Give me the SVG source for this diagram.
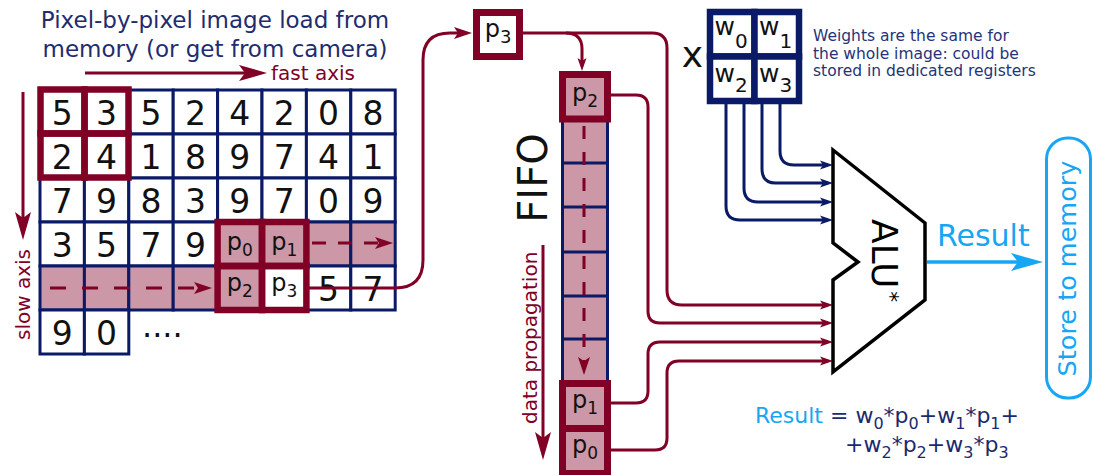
<svg xmlns="http://www.w3.org/2000/svg" width="1093" height="475" viewBox="0 0 1093 475">
<style>
text{font-family:"DejaVu Sans","Liberation Sans",sans-serif}
.c{fill:#fff;stroke:#0b1a66;stroke-width:3}
.pk{fill:#cc97a6;stroke:#0b1a66;stroke-width:3}
.win{fill:none;stroke:#800026;stroke-width:6.5}
.d{font-size:33px;fill:#111;text-anchor:middle}
.p{font-size:24px;fill:#111;text-anchor:middle}
.ps{font-size:17px}
.ttl{font-size:23px;fill:#1f2c6e;text-anchor:middle}
.lm{fill:none;stroke:#800026;stroke-width:3}
.ln{fill:none;stroke:#0b1a66;stroke-width:3}
.wt{font-size:15.5px;fill:#26337a}
.w{font-size:25px;fill:#111}
.ws{font-size:20px}
.f{font-size:22px;fill:#1b2a6e}
.fs{font-size:16px}
.blue{fill:#17a6f4}
</style>
<defs>
<marker id="mBig" markerUnits="userSpaceOnUse" viewBox="-22 -10 32 20" refX="0" refY="0" markerWidth="32" markerHeight="20" orient="auto"><path d="M8,0 L-20,-8 L-14,0 L-20,8 Z" fill="#800026"/></marker>
<marker id="mMed" markerUnits="userSpaceOnUse" viewBox="-14 -8 22 16" refX="0" refY="0" markerWidth="22" markerHeight="16" orient="auto"><path d="M6,0 L-12,-6 L-8,0 L-12,6 Z" fill="#800026"/></marker>
<marker id="mSm" markerUnits="userSpaceOnUse" viewBox="-10 -6 16 12" refX="0" refY="0" markerWidth="16" markerHeight="12" orient="auto"><path d="M5,0 L-8,-4.5 L-5,0 L-8,4.5 Z" fill="#800026"/></marker>
<marker id="nSm" markerUnits="userSpaceOnUse" viewBox="-10 -6 16 12" refX="0" refY="0" markerWidth="16" markerHeight="12" orient="auto"><path d="M5,0 L-8,-4.5 L-5,0 L-8,4.5 Z" fill="#0b1a66"/></marker>
<marker id="bBig" markerUnits="userSpaceOnUse" viewBox="-26 -11 36 22" refX="0" refY="0" markerWidth="36" markerHeight="22" orient="auto"><path d="M8,0 L-24,-9 L-17,0 L-24,9 Z" fill="#17a6f4"/></marker>
</defs>
<rect width="1093" height="475" fill="#fff"/>

<g id="title">
<text class="ttl" x="215" y="28">Pixel-by-pixel image load from</text>
<text class="ttl" x="215" y="57">memory (or get from camera)</text>
<text x="271" y="80" font-size="20" fill="#800026">fast axis</text>
<text transform="translate(29.5,340) rotate(-90)" font-size="20" fill="#800026">slow axis</text>
</g>

<g id="grid">
<rect class="c" x="40" y="90" width="44.4" height="44"/><rect class="c" x="84.4" y="90" width="44.4" height="44"/><rect class="c" x="128.8" y="90" width="44.4" height="44"/><rect class="c" x="173.2" y="90" width="44.4" height="44"/><rect class="c" x="217.6" y="90" width="44.4" height="44"/><rect class="c" x="262" y="90" width="44.4" height="44"/><rect class="c" x="306.4" y="90" width="44.4" height="44"/><rect class="c" x="350.8" y="90" width="44.4" height="44"/>
<rect class="c" x="40" y="134" width="44.4" height="44"/><rect class="c" x="84.4" y="134" width="44.4" height="44"/><rect class="c" x="128.8" y="134" width="44.4" height="44"/><rect class="c" x="173.2" y="134" width="44.4" height="44"/><rect class="c" x="217.6" y="134" width="44.4" height="44"/><rect class="c" x="262" y="134" width="44.4" height="44"/><rect class="c" x="306.4" y="134" width="44.4" height="44"/><rect class="c" x="350.8" y="134" width="44.4" height="44"/>
<rect class="c" x="40" y="178" width="44.4" height="44"/><rect class="c" x="84.4" y="178" width="44.4" height="44"/><rect class="c" x="128.8" y="178" width="44.4" height="44"/><rect class="c" x="173.2" y="178" width="44.4" height="44"/><rect class="c" x="217.6" y="178" width="44.4" height="44"/><rect class="c" x="262" y="178" width="44.4" height="44"/><rect class="c" x="306.4" y="178" width="44.4" height="44"/><rect class="c" x="350.8" y="178" width="44.4" height="44"/>
<rect class="c" x="40" y="222" width="44.4" height="44"/><rect class="c" x="84.4" y="222" width="44.4" height="44"/><rect class="c" x="128.8" y="222" width="44.4" height="44"/><rect class="c" x="173.2" y="222" width="44.4" height="44"/><rect class="pk" x="217.6" y="222" width="44.4" height="44"/><rect class="pk" x="262" y="222" width="44.4" height="44"/><rect class="pk" x="306.4" y="222" width="44.4" height="44"/><rect class="pk" x="350.8" y="222" width="44.4" height="44"/>
<rect class="pk" x="40" y="266" width="44.4" height="44"/><rect class="pk" x="84.4" y="266" width="44.4" height="44"/><rect class="pk" x="128.8" y="266" width="44.4" height="44"/><rect class="pk" x="173.2" y="266" width="44.4" height="44"/><rect class="pk" x="217.6" y="266" width="44.4" height="44"/><rect class="c" x="262" y="266" width="44.4" height="44"/><rect class="c" x="306.4" y="266" width="44.4" height="44"/><rect class="c" x="350.8" y="266" width="44.4" height="44"/>
<rect class="c" x="40" y="310" width="44.4" height="44"/><rect class="c" x="84.4" y="310" width="44.4" height="44"/>

<text class="d" y="125"><tspan x="62.2">5</tspan><tspan x="106.6">3</tspan><tspan x="151">5</tspan><tspan x="195.4">2</tspan><tspan x="239.8">4</tspan><tspan x="284.2">2</tspan><tspan x="328.6">0</tspan><tspan x="373">8</tspan></text>
<text class="d" y="169"><tspan x="62.2">2</tspan><tspan x="106.6">4</tspan><tspan x="151">1</tspan><tspan x="195.4">8</tspan><tspan x="239.8">9</tspan><tspan x="284.2">7</tspan><tspan x="328.6">4</tspan><tspan x="373">1</tspan></text>
<text class="d" y="213"><tspan x="62.2">7</tspan><tspan x="106.6">9</tspan><tspan x="151">8</tspan><tspan x="195.4">3</tspan><tspan x="239.8">9</tspan><tspan x="284.2">7</tspan><tspan x="328.6">0</tspan><tspan x="373">9</tspan></text>
<text class="d" y="257"><tspan x="62.2">3</tspan><tspan x="106.6">5</tspan><tspan x="151">7</tspan><tspan x="195.4">9</tspan></text>
<text class="d" y="301"><tspan x="328.6">5</tspan><tspan x="373">7</tspan></text>
<text class="d" y="345"><tspan x="62.2">9</tspan><tspan x="106.6">0</tspan></text>
<text x="142" y="346" font-size="32" fill="#111">····</text>
</g>

<g id="window-top">
<rect class="win" x="40.5" y="89.5" width="44" height="44"/><rect class="win" x="84.5" y="89.5" width="44" height="44"/>
<rect class="win" x="40.5" y="133.5" width="44" height="44"/><rect class="win" x="84.5" y="133.5" width="44" height="44"/>
</g>

<g id="window-p">
<rect class="win" x="217.6" y="222" width="44.4" height="44"/><rect class="win" x="262" y="222" width="44.4" height="44"/>
<rect class="win" x="217.6" y="266" width="44.4" height="44"/><rect class="win" x="262" y="266" width="44.4" height="44"/>
<text class="p" x="239.8" y="250">p<tspan class="ps" dy="6">0</tspan></text>
<text class="p" x="284.2" y="250">p<tspan class="ps" dy="6">1</tspan></text>
<text class="p" x="239.8" y="291">p<tspan class="ps" dy="6">2</tspan></text>
<text class="p" x="284.2" y="291">p<tspan class="ps" dy="6">3</tspan></text>
</g>

<g id="p3-register">
<rect x="476.5" y="12.5" width="43" height="44" fill="#fff" stroke="#800026" stroke-width="7"/>
<text class="p" x="498" y="37" font-size="26">p<tspan font-size="18" dy="6">3</tspan></text>
</g>

<g id="fifo">
<rect x="562.5" y="119" width="45" height="264.5" fill="#cc97a6" stroke="#0b1a66" stroke-width="3"/>
<path d="M562.5,163H607.5M562.5,207H607.5M562.5,252H607.5M562.5,296H607.5M562.5,339H607.5" stroke="#0b1a66" stroke-width="3"/>
<rect x="562.5" y="74.5" width="45" height="44.5" fill="#cc97a6" stroke="#800026" stroke-width="7"/>
<rect x="562.5" y="383.5" width="45" height="45" fill="#cc97a6" stroke="#800026" stroke-width="7"/>
<rect x="562.5" y="428.5" width="45" height="45" fill="#cc97a6" stroke="#800026" stroke-width="7"/>
<text class="p" x="585" y="101">p<tspan class="ps" dy="6">2</tspan></text>
<text class="p" x="585" y="408">p<tspan class="ps" dy="6">1</tspan></text>
<text class="p" x="585" y="453">p<tspan class="ps" dy="6">0</tspan></text>
<text transform="translate(547,178) rotate(-90)" font-size="40" text-anchor="middle" fill="#111">FIFO</text>
<text transform="translate(537,424) rotate(-90)" font-size="20" fill="#800026">data propagation</text>
</g>

<g id="weights">
<text x="692.5" y="67" font-size="36" text-anchor="middle" fill="#111">x</text>
<rect x="710" y="12" width="44.5" height="44.5" fill="#fff" stroke="#0b1a66" stroke-width="6.5"/>
<rect x="754.5" y="12" width="44.5" height="44.5" fill="#fff" stroke="#0b1a66" stroke-width="6.5"/>
<rect x="710" y="56.5" width="44.5" height="44.5" fill="#fff" stroke="#0b1a66" stroke-width="6.5"/>
<rect x="754.5" y="56.5" width="44.5" height="44.5" fill="#fff" stroke="#0b1a66" stroke-width="6.5"/>
<text class="w" x="714.5" y="35">w<tspan class="ws" dy="13">0</tspan></text>
<text class="w" x="759" y="35">w<tspan class="ws" dy="13">1</tspan></text>
<text class="w" x="714.5" y="82">w<tspan class="ws" dy="10">2</tspan></text>
<text class="w" x="759" y="82">w<tspan class="ws" dy="10">3</tspan></text>
<text class="wt" x="813" y="41">Weights are the same for</text>
<text class="wt" x="813" y="58.5">the whole image: could be</text>
<text class="wt" x="813" y="76">stored in dedicated registers</text>
</g>

<g id="connectors">
<path class="lm" stroke-width="3.5" d="M85,73 H259" marker-end="url(#mBig)"/>
<path class="lm" stroke-width="3.5" d="M23,92 V232" marker-end="url(#mBig)"/>
<path class="lm" d="M312,243 H387" stroke-dasharray="14 12" marker-end="url(#mMed)"/>
<path class="lm" d="M50,288 H206" stroke-dasharray="16 16" marker-end="url(#mMed)"/>
<path class="lm" d="M307,288 H395 Q423,288 423,260 V60 Q423,33 450,33 H466" marker-end="url(#mMed)"/>
<path class="lm" d="M523,33 H652 Q667,33 667,48 V290 Q667,305 682,305 H828" marker-end="url(#mSm)"/>
<path class="lm" d="M566,33 Q582,33 582,49 V66" marker-end="url(#mSm)"/>
<path class="lm" d="M610,95 H636 Q648,95 648,107 V311 Q648,323 660,323 H828" marker-end="url(#mSm)"/>
<path class="lm" d="M611,403 H636 Q648,403 648,391 V354 Q648,342 660,342 H828" marker-end="url(#mSm)"/>
<path class="lm" d="M611,450 H655 Q667,450 667,438 V373 Q667,361 679,361 H828" marker-end="url(#mSm)"/>
<path class="ln" d="M726,104 V206 Q726,220 740,220 H828" marker-end="url(#nSm)"/>
<path class="ln" d="M744,104 V188 Q744,202 758,202 H828" marker-end="url(#nSm)"/>
<path class="ln" d="M762,104 V169 Q762,183 776,183 H828" marker-end="url(#nSm)"/>
<path class="ln" d="M780,104 V151 Q780,165 794,165 H828" marker-end="url(#nSm)"/>
<path class="lm" d="M584,126 V369" stroke-dasharray="13 13" marker-end="url(#mMed)"/>
<path class="lm" stroke-width="3.5" d="M543,245 V452" marker-end="url(#mBig)"/>
<path fill="none" stroke="#17a6f4" stroke-width="3.5" d="M927,262 H1035" marker-end="url(#bBig)"/>
</g>

<g id="alu">
<polygon points="833,150 925,223 925,300 833,372 833,280 858,262 833,243" fill="#fff" stroke="#000" stroke-width="3.5" stroke-linejoin="miter"/>
<text transform="translate(872,219) rotate(90)" font-size="36" fill="#000">ALU<tspan font-size="22" dx="3" dy="-11">*</tspan></text>
</g>

<g id="result">
<text class="blue" x="937" y="246" font-size="30">Result</text>
</g>

<g id="store">
<rect x="1046.5" y="138" width="44" height="260" rx="21" fill="#fff" stroke="#17a6f4" stroke-width="3"/>
<text class="blue" transform="translate(1076,268.5) rotate(-90)" font-size="25.5" text-anchor="middle">Store to memory</text>
</g>

<g id="formula">
<text class="f" x="755" y="423"><tspan class="blue">Result</tspan> = w<tspan class="fs" dy="6">0</tspan><tspan dy="-6">*p</tspan><tspan class="fs" dy="6">0</tspan><tspan dy="-6">+w</tspan><tspan class="fs" dy="6">1</tspan><tspan dy="-6">*p</tspan><tspan class="fs" dy="6">1</tspan><tspan dy="-6">+</tspan></text>
<text class="f" x="845" y="452">+w<tspan class="fs" dy="6">2</tspan><tspan dy="-6">*p</tspan><tspan class="fs" dy="6">2</tspan><tspan dy="-6">+w</tspan><tspan class="fs" dy="6">3</tspan><tspan dy="-6">*p</tspan><tspan class="fs" dy="6">3</tspan></text>
</g>
</svg>
